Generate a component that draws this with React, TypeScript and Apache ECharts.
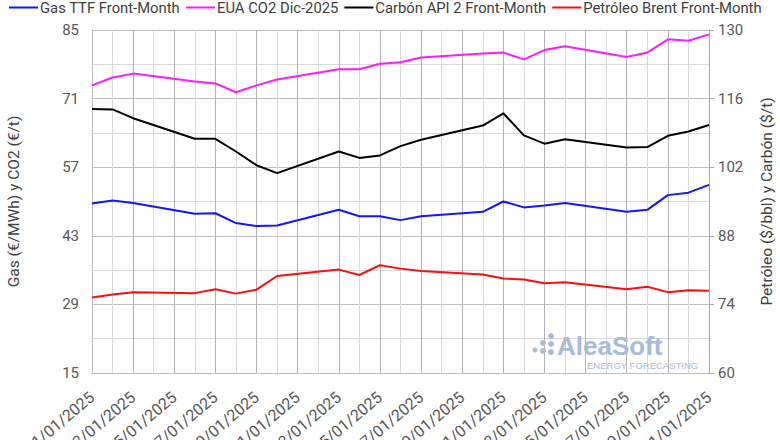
import React, { useEffect, useRef } from "react";
import * as echarts from "echarts";

const dates = [
  "01/01/2025", "02/01/2025", "03/01/2025", "04/01/2025", "05/01/2025", "06/01/2025",
  "07/01/2025", "08/01/2025", "09/01/2025", "10/01/2025", "11/01/2025", "12/01/2025",
  "13/01/2025", "14/01/2025", "15/01/2025", "16/01/2025", "17/01/2025", "18/01/2025",
  "19/01/2025", "20/01/2025", "21/01/2025", "22/01/2025", "23/01/2025", "24/01/2025",
  "25/01/2025", "26/01/2025", "27/01/2025", "28/01/2025", "29/01/2025", "30/01/2025",
  "31/01/2025",
];

const gasTTF = [49.6, 50.2, 49.7, null, null, 47.5, 47.6, 45.6, 45.0, 45.1, null, null, 48.3, 47.0, 47.0, 46.2, 47.0, null, null, 47.9, 50.0, 48.8, 49.2, 49.7, null, null, 47.9, 48.3, 51.3, 51.8, 53.4];
const euaCO2 = [73.7, 75.3, 76.1, null, null, 74.5, 74.1, 72.3, 73.7, 74.9, null, null, 77.0, 77.0, 78.1, 78.4, 79.4, null, null, 80.2, 80.4, 79.0, 80.9, 81.7, null, null, 79.5, 80.4, 83.1, 82.8, 84.1];
const carbonAPI2 = [113.9, 113.8, 112.0, null, null, 107.8, 107.8, 105.2, 102.4, 100.8, null, null, 105.2, 103.9, 104.4, 106.3, 107.6, null, null, 110.5, 113.0, 108.5, 106.8, 107.7, null, null, 106.0, 106.1, 108.4, 109.3, 110.6];
const brent = [75.4, 76.0, 76.5, null, null, 76.3, 77.1, 76.2, 77.0, 79.8, null, null, 81.1, 80.0, 82.0, 81.3, 80.8, null, null, 80.1, 79.3, 79.1, 78.3, 78.5, null, null, 77.1, 77.6, 76.5, 76.9, 76.8];

const seriesNames = ["Gas TTF Front-Month", "EUA CO2 Dic-2025", "Carbón API 2 Front-Month", "Petróleo Brent Front-Month"];
const seriesColors = ["#1414ff", "#ff1aff", "#000000", "#ff0d0d"];

const labelFont = "Roboto, 'Liberation Sans', sans-serif";
const wmColor = "#a8bcd9";

export default function App() {
  const ref = useRef<HTMLDivElement>(null);
  useEffect(() => {
    if (!ref.current) return;
    const chart = echarts.init(ref.current, null, { renderer: "svg" });
    const dataSets = [gasTTF, euaCO2, carbonAPI2, brent];
    const axisIdx = [0, 0, 1, 1];
    chart.setOption({
      animation: false,
      backgroundColor: "#ffffff",
      legend: {
        top: 0,
        left: 9,
        width: 800,
        icon: "rect",
        itemWidth: 29,
        itemHeight: 2,
        itemGap: 6,
        padding: [0, 0, 0, 0],
        textStyle: { fontFamily: labelFont, fontSize: 14.8, color: "#404040", padding: [0, 0, 0, -3] },
        data: seriesNames,
      },
      grid: { left: 92, right: 71, top: 30, bottom: 67, containLabel: false, outerBoundsMode: "none" },
      xAxis: [
        {
          type: "category",
          data: dates,
          boundaryGap: false,
          axisLine: { show: true, lineStyle: { color: "#bfbfbf", width: 1 } },
          axisTick: { show: false },
          axisLabel: {
            interval: 1,
            rotate: 40,
            fontFamily: labelFont,
            fontSize: 16,
            color: "#595959",
            margin: 22,
          },
          splitLine: { show: true, interval: 0, lineStyle: { color: "#dadada", width: 1 } },
        },
        {
          type: "category",
          data: dates,
          boundaryGap: false,
          position: "bottom",
          axisLine: { show: false },
          axisTick: { show: false },
          axisLabel: { show: false },
          splitLine: { show: true, interval: 1, lineStyle: { color: "#b3b3b3", width: 1 } },
        },
      ],
      yAxis: [
        {
          type: "value",
          min: 15,
          max: 85,
          interval: 14,
          name: "Gas (€/MWh) y CO2 (€/t)",
          nameLocation: "middle",
          nameGap: 70,
          nameTextStyle: { fontFamily: labelFont, fontSize: 15.5, color: "#404040" },
          axisLine: { show: true, lineStyle: { color: "#bfbfbf" } },
          axisTick: { show: false },
          axisLabel: { fontFamily: labelFont, fontSize: 15, color: "#595959", margin: 13 },
          splitLine: { show: true, lineStyle: { color: "#bfbfbf", width: 1 } },
          minorTick: { show: false, splitNumber: 2 },
          minorSplitLine: { show: true, lineStyle: { color: "#dadada", width: 1 } },
        },
        {
          type: "value",
          min: 60,
          max: 130,
          interval: 14,
          position: "right",
          name: "Petróleo ($/bbl) y Carbón ($/t)",
          nameLocation: "middle",
          nameGap: 50,
          nameRotate: 90,
          nameTextStyle: { fontFamily: labelFont, fontSize: 15.5, color: "#404040" },
          axisLine: { show: true, lineStyle: { color: "#a6a6a6" } },
          axisTick: { show: true, length: 5, lineStyle: { color: "#a6a6a6" } },
          axisLabel: { fontFamily: labelFont, fontSize: 15, color: "#595959", margin: 9 },
          splitLine: { show: false },
        },
      ],
      series: seriesNames.map((name, i) => ({
        name,
        type: "line",
        xAxisIndex: 0,
        yAxisIndex: axisIdx[i],
        data: dataSets[i],
        connectNulls: true,
        symbol: "none",
        lineStyle: { color: seriesColors[i], width: 2 },
        itemStyle: { color: seriesColors[i] },
        z: 3,
      })),
      graphic: [
        { type: "circle", shape: { cx: 535, cy: 350, r: 2.5 }, style: { fill: wmColor }, z: 1 },
        { type: "circle", shape: { cx: 543, cy: 343, r: 3 }, style: { fill: wmColor }, z: 1 },
        { type: "circle", shape: { cx: 543, cy: 351, r: 3 }, style: { fill: wmColor }, z: 1 },
        { type: "circle", shape: { cx: 551, cy: 336, r: 3 }, style: { fill: wmColor }, z: 1 },
        { type: "circle", shape: { cx: 551, cy: 344, r: 3 }, style: { fill: wmColor }, z: 1 },
        { type: "circle", shape: { cx: 551, cy: 352, r: 3 }, style: { fill: wmColor }, z: 1 },
        {
          type: "text",
          x: 557,
          y: 333,
          z: 1,
          style: {
            text: "AleaSoft",
            fill: wmColor,
            font: "bold 26px 'Liberation Sans', Arial, sans-serif",
          },
        },
        {
          type: "text",
          x: 587,
          y: 360,
          z: 1,
          style: {
            text: "ENERGY FORECASTING",
            fill: wmColor,
            font: "9.5px 'Liberation Sans', Arial, sans-serif",
          },
        },
      ],
    });
    return () => chart.dispose();
  }, []);
  return <div ref={ref} style={{ position: "fixed", left: 0, top: 0, width: 780, height: 440 }} />;
}
